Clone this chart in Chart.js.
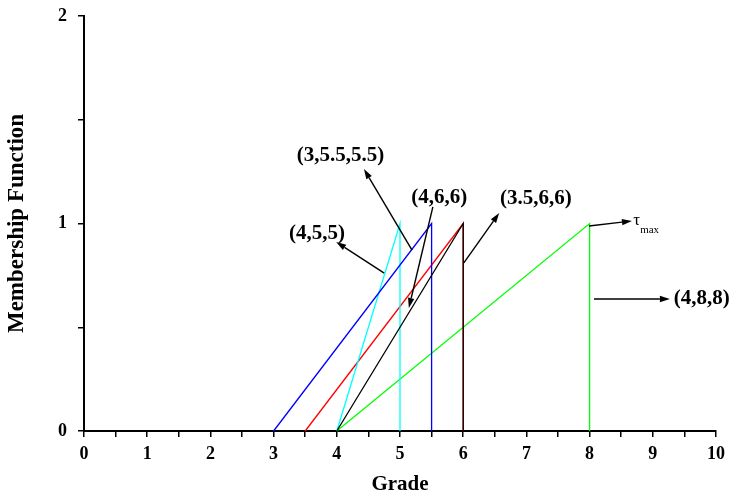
<!DOCTYPE html>
<html>
<head>
<meta charset="utf-8">
<script src="https://cdn.jsdelivr.net/npm/chart.js@4.4.0/dist/chart.umd.min.js"></script>
<style>
  html, body { margin: 0; padding: 0; background: #fff; }
  #wrap { width: 731px; height: 497px; }
</style>
</head>
<body>
<div id="wrap"><canvas id="c" width="731" height="497"></canvas></div>
<script>
// ---- data ----
const xTicksMin = 0, xTicksMax = 10, xStep = 0.5;
const yTicksMin = 0, yTicksMax = 2, yStep = 0.5;

const seriesNames = ['(3,5.5,5.5)', '(4,5,5)', '(4,6,6)', '(3.5,6,6)', '(4,8,8)'];
const gradeBlue  = [3, 5.5, 5.5];   const muBlue  = [0, 1, 0];
const gradeCyan  = [4, 5, 5];       const muCyan  = [0, 1, 0];
const gradeBlack = [4, 6, 6];       const muBlack = [0, 1, 0];
const gradeRed   = [3.5, 6, 6];     const muRed   = [0, 1, 0];
const gradeGreen = [4, 8, 8];       const muGreen = [0, 1, 0];

// annotations in data coordinates
const annotations = [
  { text: '(3,5.5,5.5)', tx: 4.06, ty: 1.328, from: [5.19, 0.872], to: [4.43, 1.263] },
  { text: '(4,6,6)',     tx: 5.62, ty: 1.123, from: [5.52, 1.08],  to: [5.14, 0.593] },
  { text: '(4,5,5)',     tx: 3.687, ty: 0.952, from: [4.75, 0.761], to: [3.99, 0.911] },
  { text: '(3.5,6,6)',   tx: 7.15, ty: 1.12,  from: [6.01, 0.81],  to: [6.57, 1.051] },
  { text: '(4,8,8)',     tx: 9.33, ty: 0.639, from: [8.07, 0.636], to: [9.27, 0.636], align: 'left' },
  { text: '', from: [7.99, 0.988], to: [8.67, 1.012] }
];
const tauLabel = { main: 'τ', sub: 'max', x: 8.69, y: 0.993, subX: 8.80, subY: 0.954 };

function pts(xs, ys) { return xs.map((x, i) => ({ x: x, y: ys[i] })); }

const FONT = "'Liberation Serif', 'Times New Roman', serif";

const annotationPlugin = {
  id: 'annots',
  afterDatasetsDraw(chart) {
    const ctx = chart.ctx;
    const xs = chart.scales.x, ys = chart.scales.y;
    const px = v => xs.getPixelForValue(v), py = v => ys.getPixelForValue(v);
    ctx.save();
    ctx.strokeStyle = '#000';
    ctx.fillStyle = '#000';
    ctx.lineWidth = 1.4;
    annotations.forEach(a => {
      const x1 = px(a.from[0]), y1 = py(a.from[1]);
      const x2 = px(a.to[0]), y2 = py(a.to[1]);
      const ang = Math.atan2(y2 - y1, x2 - x1);
      const L = 10, W = 3.2;
      const bx = x2 - L * Math.cos(ang), by = y2 - L * Math.sin(ang);
      ctx.beginPath();
      ctx.moveTo(x1, y1);
      ctx.lineTo(bx, by);
      ctx.stroke();
      ctx.beginPath();
      ctx.moveTo(x2, y2);
      ctx.lineTo(bx + W * Math.sin(ang), by - W * Math.cos(ang));
      ctx.lineTo(bx - W * Math.sin(ang), by + W * Math.cos(ang));
      ctx.closePath();
      ctx.fill();
      if (a.text) {
        ctx.font = 'bold 21px ' + FONT;
        ctx.textAlign = a.align || 'center';
        ctx.textBaseline = 'middle';
        ctx.fillText(a.text, px(a.tx), py(a.ty));
      }
    });
    ctx.font = '17px ' + FONT;
    ctx.textAlign = 'left';
    ctx.textBaseline = 'alphabetic';
    ctx.fillText(tauLabel.main, px(tauLabel.x), py(tauLabel.y));
    ctx.font = '11px ' + FONT;
    ctx.fillText(tauLabel.sub, px(tauLabel.subX), py(tauLabel.subY));
    ctx.restore();
  }
};

function ds(label, xs, ys, color) {
  return {
    label: label,
    data: pts(xs, ys),
    showLine: true,
    borderColor: color,
    backgroundColor: color,
    borderWidth: 1.3,
    pointRadius: 0,
    tension: 0,
    clip: false
  };
}

new Chart(document.getElementById('c'), {
  type: 'scatter',
  data: {
    datasets: [
      ds(seriesNames[2], gradeBlack, muBlack, '#000000'),
      ds(seriesNames[0], gradeBlue, muBlue, '#0000ff'),
      ds(seriesNames[1], gradeCyan, muCyan, '#00ffff'),
      ds(seriesNames[3], gradeRed, muRed, '#ff0000'),
      ds(seriesNames[4], gradeGreen, muGreen, '#00ff00')
    ]
  },
  options: {
    responsive: false,
    animation: false,
    layout: { padding: { top: 16, right: 15, left: 0, bottom: 0 } },
    plugins: { legend: { display: false }, tooltip: { enabled: false } },
    scales: {
      x: {
        type: 'linear',
        min: xTicksMin, max: xTicksMax,
        afterFit: s => { s.height = 66; s.paddingLeft = 0; s.paddingRight = 0; },
        border: { display: true, color: '#000', width: 2 },
        grid: { drawOnChartArea: false, drawTicks: true, tickLength: 6, color: '#000', lineWidth: 1.5 },
        ticks: {
          stepSize: xStep, autoSkip: false, maxRotation: 0, padding: 7,
          color: '#000',
          font: { family: FONT, size: 18, weight: 'bold' },
          callback: v => Number.isInteger(v) ? String(v) : ''
        },
        title: {
          display: true, text: 'Grade', color: '#000',
          font: { family: FONT, size: 21, weight: 'bold' },
          padding: { top: 0, bottom: 0 }
        }
      },
      y: {
        type: 'linear',
        min: yTicksMin, max: yTicksMax,
        afterFit: s => { s.width = 84; s.paddingTop = 0; s.paddingBottom = 0; },
        border: { display: true, color: '#000', width: 2 },
        grid: { drawOnChartArea: false, drawTicks: true, tickLength: 6, color: '#000', lineWidth: 1.5 },
        ticks: {
          stepSize: yStep, autoSkip: false, padding: 11,
          color: '#000',
          font: { family: FONT, size: 18, weight: 'bold' },
          callback: v => Number.isInteger(v) ? String(v) : ''
        },
        title: {
          display: true, text: 'Membership Function', color: '#000',
          font: { family: FONT, size: 23, weight: 'bold' },
          padding: { top: 3, bottom: 0 }
        }
      }
    }
  },
  plugins: [annotationPlugin]
});
</script>
</body>
</html>
